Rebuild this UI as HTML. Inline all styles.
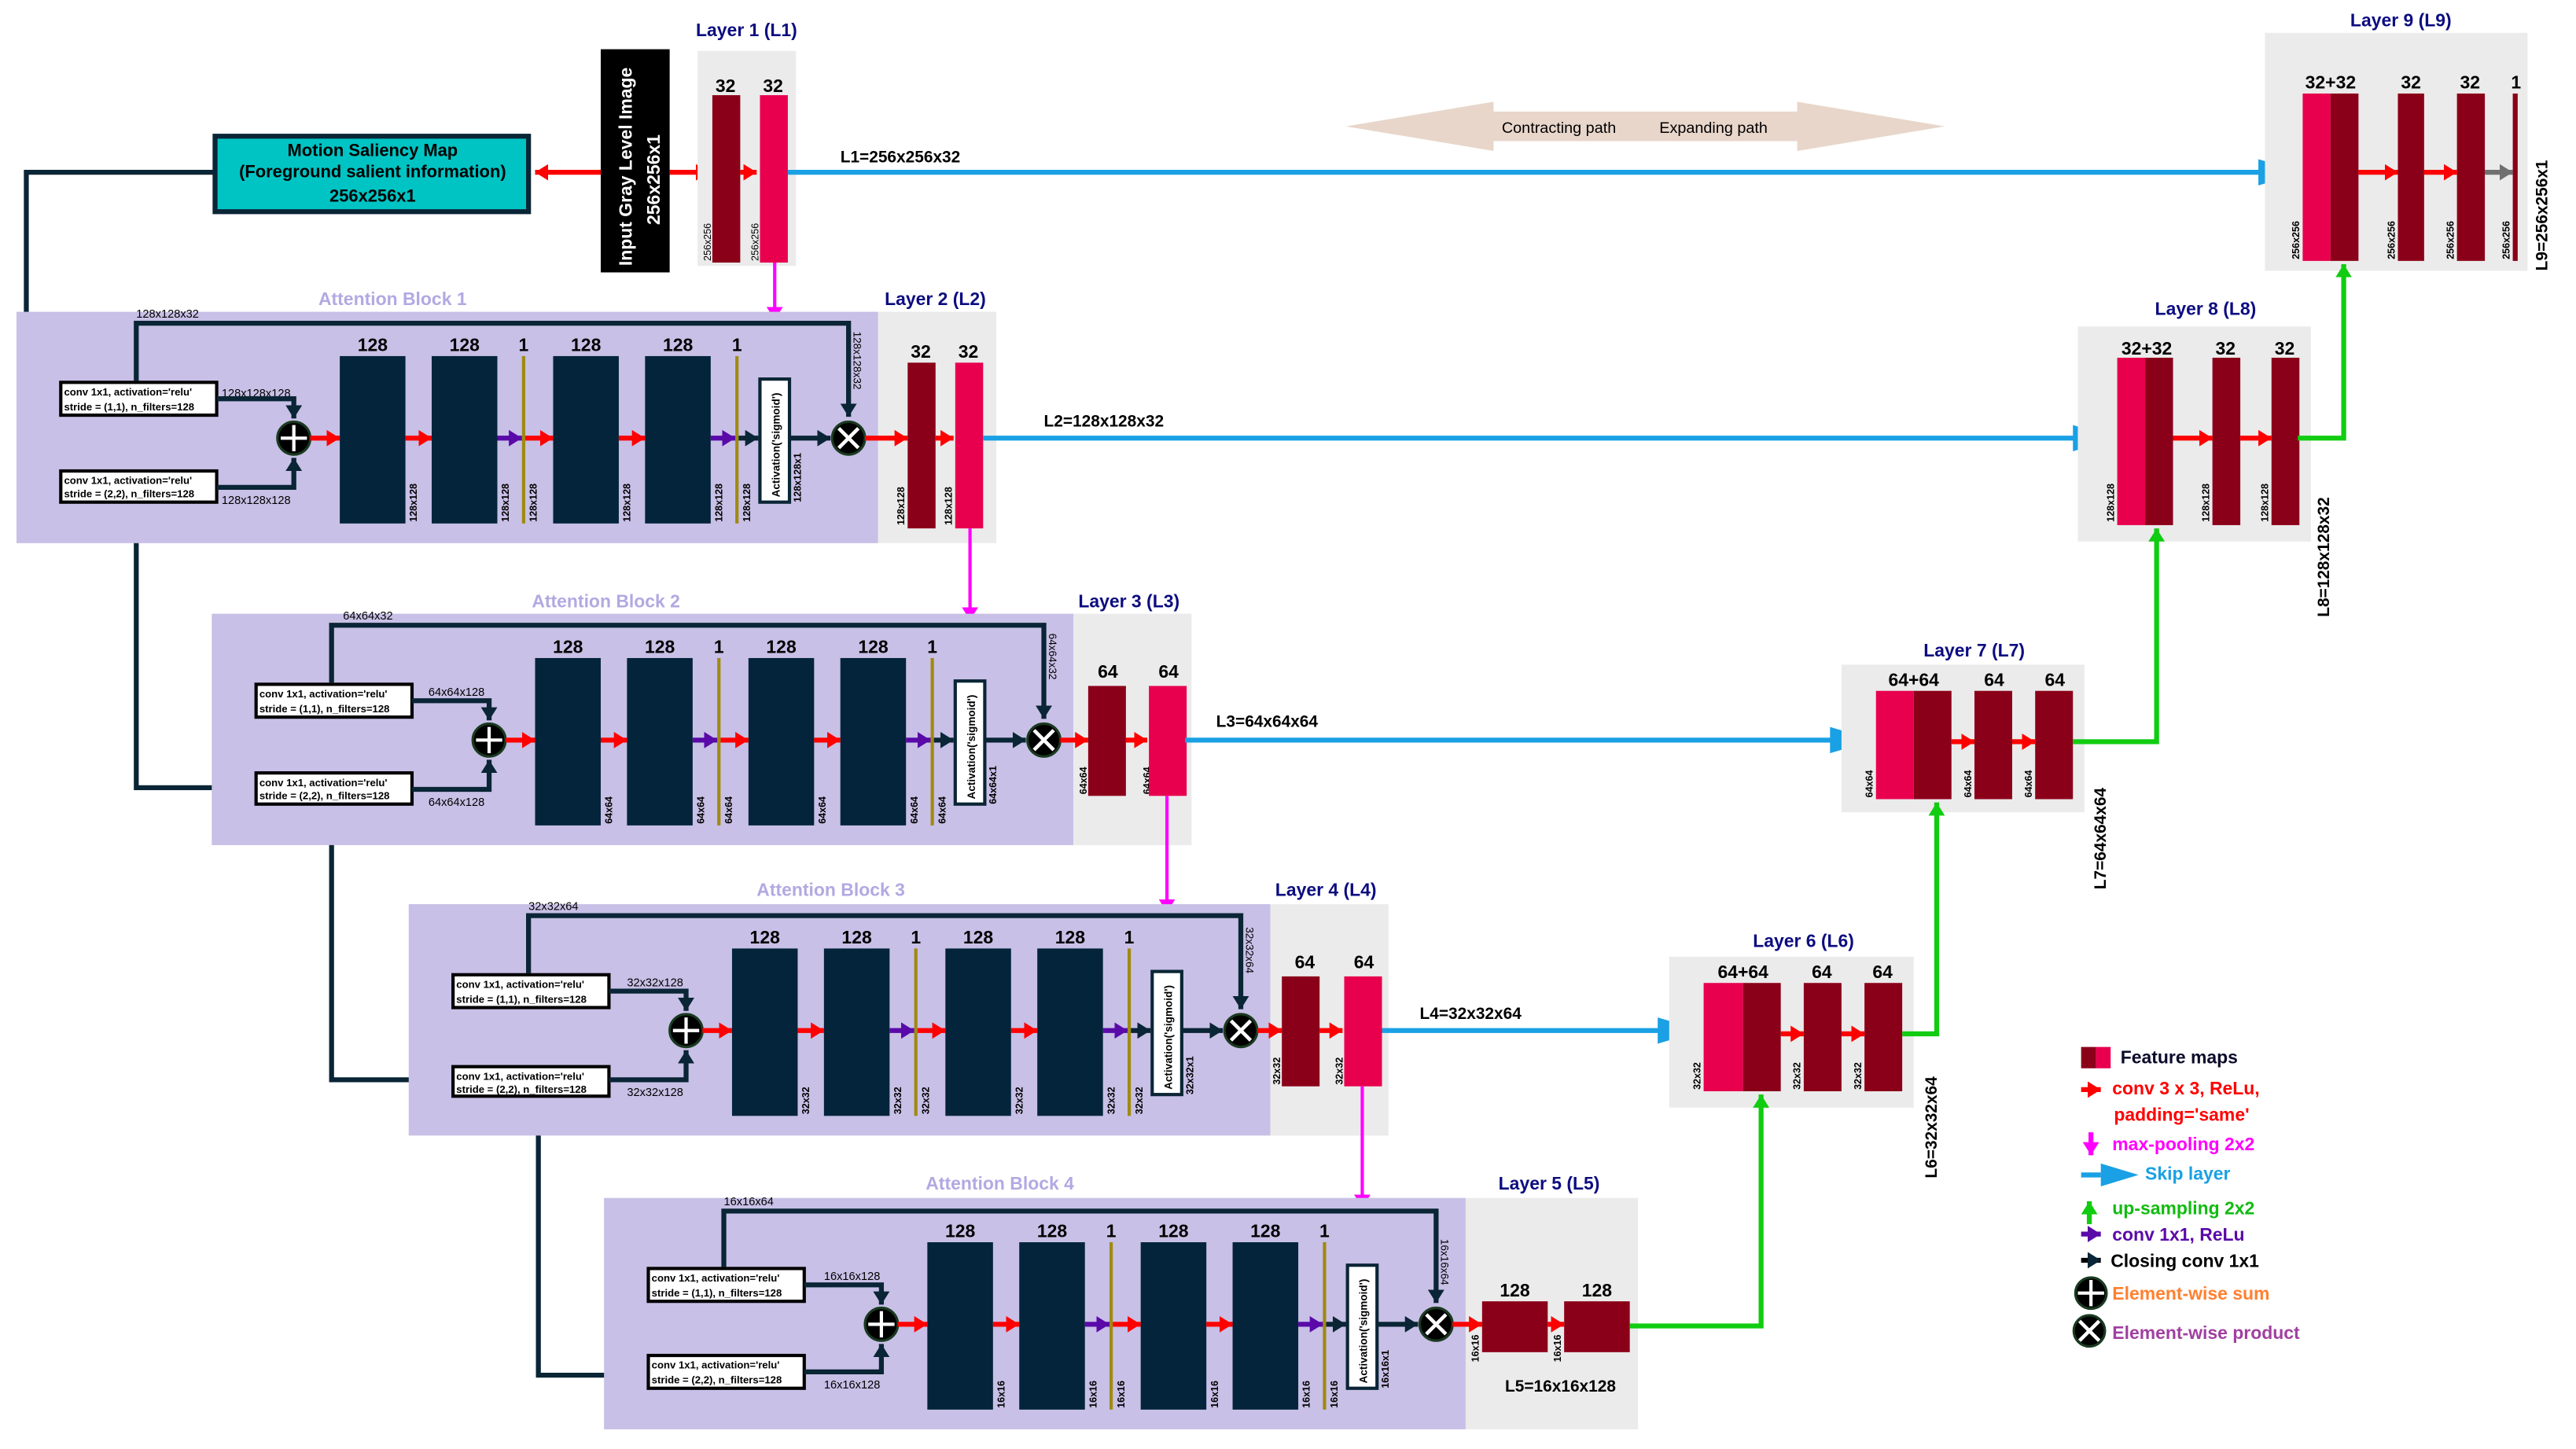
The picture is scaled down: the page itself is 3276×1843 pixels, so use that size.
<!DOCTYPE html>
<html><head><meta charset="utf-8">
<style>
html,body{margin:0;padding:0;background:#fff;}
svg{display:block;}
text{font-family:"Liberation Sans",sans-serif;}
.b{font-weight:bold;}
</style></head>
<body>
<svg width="3276" height="1843" viewBox="0 0 1569.5 883" xmlns="http://www.w3.org/2000/svg">
<defs>
<marker id="mr" markerUnits="userSpaceOnUse" markerWidth="10" markerHeight="10" refX="8" refY="5" orient="auto"><path d="M0,0 L8,5 L0,10 z" fill="#ff0000"/></marker>
<marker id="mp" markerUnits="userSpaceOnUse" markerWidth="10" markerHeight="10" refX="8" refY="5" orient="auto"><path d="M0,0 L8,5 L0,10 z" fill="#5a0aa8"/></marker>
<marker id="mk" markerUnits="userSpaceOnUse" markerWidth="10" markerHeight="10" refX="8" refY="5" orient="auto"><path d="M0,0 L8,5 L0,10 z" fill="#0a2535"/></marker>
<marker id="mm" markerUnits="userSpaceOnUse" markerWidth="10" markerHeight="10" refX="8" refY="5" orient="auto"><path d="M0,0 L8,5 L0,10 z" fill="#ff00ff"/></marker>
<marker id="mg" markerUnits="userSpaceOnUse" markerWidth="10" markerHeight="10" refX="8" refY="5" orient="auto"><path d="M0,0 L8,5 L0,10 z" fill="#11cc11"/></marker>
<marker id="mgr" markerUnits="userSpaceOnUse" markerWidth="10" markerHeight="10" refX="8" refY="5" orient="auto"><path d="M0,0 L8,5 L0,10 z" fill="#707070"/></marker>
</defs>

<!-- Contracting / Expanding -->
<polygon points="820,77 910,62 910,68 1095,68 1095,62 1185,77 1095,92 1095,86 910,86 910,92" fill="#e8d6ca"/>
<text x="915" y="81" font-size="9.5">Contracting path</text>
<text x="1011" y="81" font-size="9.5">Expanding path</text>

<!-- Motion saliency -->
<rect x="131" y="83" width="191" height="46" fill="#00c4c4" stroke="#0a2535" stroke-width="3"/>
<text x="227" y="95" font-size="10.5" class="b" text-anchor="middle">Motion Saliency Map</text>
<text x="227" y="108" font-size="10.5" class="b" text-anchor="middle">(Foreground salient information)</text>
<text x="227" y="123" font-size="10.5" class="b" text-anchor="middle">256x256x1</text>

<!-- Input -->
<rect x="366" y="30" width="42" height="136" fill="#000"/>
<text transform="rotate(-90 385 162)" x="385" y="162" font-size="11" class="b" fill="#fff">Input Gray Level Image</text>
<text transform="rotate(-90 402 137)" x="402" y="137" font-size="11" class="b" fill="#fff">256x256x1</text>
<line x1="366" y1="105" x2="326" y2="105" stroke="#ff0000" stroke-width="3" marker-end="url(#mr)"/>
<line x1="408" y1="105" x2="432" y2="105" stroke="#ff0000" stroke-width="3" marker-end="url(#mr)"/>

<!-- Layer 1 -->
<rect x="425" y="31" width="60" height="131" fill="#ebebeb"/>
<text x="424" y="22" font-size="11" class="b" fill="#0c0c80">Layer 1 (L1)</text>
<rect x="434" y="58" width="17" height="102" fill="#8b0019"/>
<rect x="463" y="58" width="17" height="102" fill="#e8004e"/>
<text x="442" y="56" font-size="11" text-anchor="middle" class="b">32</text>
<text x="471" y="56" font-size="11" text-anchor="middle" class="b">32</text>
<text transform="rotate(-90 433 159)" x="433" y="159" font-size="6">256x256</text>
<text transform="rotate(-90 462 159)" x="462" y="159" font-size="6">256x256</text>
<line x1="451" y1="105" x2="461" y2="105" stroke="#ff0000" stroke-width="3" marker-end="url(#mr)"/>
<line x1="472" y1="160" x2="472" y2="195" stroke="#ff00ff" stroke-width="2" marker-end="url(#mm)"/>

<!-- Skip L1 -->
<line x1="480" y1="105" x2="1380" y2="105" stroke="#1aa0e4" stroke-width="3"/>
<polygon points="1376,97 1403,105 1376,113" fill="#1aa0e4"/>
<text x="512" y="99" font-size="10" class="b">L1=256x256x32</text>

<!-- Left connectors -->
<polyline points="131,105 16,105 16,297 35,297" fill="none" stroke="#0a2535" stroke-width="3" marker-end="url(#mk)"/>
<polyline points="83,306 83,480 154,480" fill="none" stroke="#0a2535" stroke-width="3" marker-end="url(#mk)"/>
<polyline points="202,490 202,658 274,658" fill="none" stroke="#0a2535" stroke-width="3" marker-end="url(#mk)"/>
<polyline points="328,668 328,838 393,838" fill="none" stroke="#0a2535" stroke-width="3" marker-end="url(#mk)"/>

<!-- ===== Block 1 ===== -->
<g transform="translate(10,190)">
<rect x="0" y="0" width="525" height="141" fill="#c8c0e6"/>
<rect x="525" y="0" width="72" height="141" fill="#ebebeb"/>
<text x="184" y="-4" font-size="11" class="b" fill="#b2a9e2">Attention Block 1</text>
<text x="529" y="-4" font-size="11" class="b" fill="#0c0c80">Layer 2 (L2)</text>
<polyline points="73,42 73,7 507,7 507,64" fill="none" stroke="#0a2535" stroke-width="3" marker-end="url(#mk)"/>
<text x="73" y="3.5" font-size="7">128x128x32</text>
<text transform="rotate(90 510 12)" x="510" y="12" font-size="6.5">128x128x32</text>
<rect x="27" y="43" width="95" height="20" fill="#fff" stroke="#000" stroke-width="2"/>
<text x="29" y="51" font-size="6.3" class="b">conv 1x1, activation='relu'</text>
<text x="29" y="60" font-size="6.3" class="b">stride = (1,1), n_filters=128</text>
<rect x="27" y="97" width="95" height="19" fill="#fff" stroke="#000" stroke-width="2"/>
<text x="29" y="105" font-size="6.3" class="b">conv 1x1, activation='relu'</text>
<text x="29" y="113" font-size="6.3" class="b">stride = (2,2), n_filters=128</text>
<text x="125" y="52" font-size="7">128x128x128</text>
<text x="125" y="117" font-size="7">128x128x128</text>
<polyline points="122,53 169,53 169,65" fill="none" stroke="#0a2535" stroke-width="3" marker-end="url(#mk)"/>
<polyline points="122,107 169,107 169,89" fill="none" stroke="#0a2535" stroke-width="3" marker-end="url(#mk)"/>
<circle cx="169" cy="77" r="10" fill="#000" stroke="#1a3a20" stroke-width="1.5"/>
<path d="M161,77 H177 M169,69 V85" stroke="#fff" stroke-width="2"/>
<rect x="197" y="27" width="40" height="102" fill="#03243a"/>
<rect x="253" y="27" width="40" height="102" fill="#03243a"/>
<rect x="308" y="27" width="2" height="102" fill="#a08a10"/>
<rect x="327" y="27" width="40" height="102" fill="#03243a"/>
<rect x="383" y="27" width="40" height="102" fill="#03243a"/>
<rect x="438" y="27" width="2" height="102" fill="#a08a10"/>
<rect x="453" y="41" width="18" height="75" fill="#fff" stroke="#0a2535" stroke-width="2"/>
<text transform="rotate(-90 465 113)" x="465" y="113" font-size="6.5" class="b">Activation('sigmoid')</text>
<text x="217" y="24" font-size="11" class="b" text-anchor="middle">128</text>
<text x="273" y="24" font-size="11" class="b" text-anchor="middle">128</text>
<text x="309" y="24" font-size="11" class="b" text-anchor="middle">1</text>
<text x="347" y="24" font-size="11" class="b" text-anchor="middle">128</text>
<text x="403" y="24" font-size="11" class="b" text-anchor="middle">128</text>
<text x="439" y="24" font-size="11" class="b" text-anchor="middle">1</text>
<g font-size="6" font-weight="bold">
<text transform="rotate(-90 244 128)" x="244" y="128">128x128</text>
<text transform="rotate(-90 300 128)" x="300" y="128">128x128</text>
<text transform="rotate(-90 317 128)" x="317" y="128">128x128</text>
<text transform="rotate(-90 374 128)" x="374" y="128">128x128</text>
<text transform="rotate(-90 430 128)" x="430" y="128">128x128</text>
<text transform="rotate(-90 447 128)" x="447" y="128">128x128</text>
<text transform="rotate(-90 478 116)" x="478" y="116">128x128x1</text>
<text transform="rotate(-90 541 130)" x="541" y="130">128x128</text>
<text transform="rotate(-90 570 130)" x="570" y="130">128x128</text>
</g>
<line x1="179" y1="77" x2="197" y2="77" stroke="#ff0000" stroke-width="3" marker-end="url(#mr)"/>
<line x1="237" y1="77" x2="253" y2="77" stroke="#ff0000" stroke-width="3" marker-end="url(#mr)"/>
<line x1="293" y1="77" x2="308" y2="77" stroke="#5a0aa8" stroke-width="3" marker-end="url(#mp)"/>
<line x1="310" y1="77" x2="327" y2="77" stroke="#ff0000" stroke-width="3" marker-end="url(#mr)"/>
<line x1="367" y1="77" x2="383" y2="77" stroke="#ff0000" stroke-width="3" marker-end="url(#mr)"/>
<line x1="423" y1="77" x2="438" y2="77" stroke="#5a0aa8" stroke-width="3" marker-end="url(#mp)"/>
<line x1="440" y1="77" x2="452" y2="77" stroke="#0a2535" stroke-width="3" marker-end="url(#mk)"/>
<line x1="471" y1="77" x2="496" y2="77" stroke="#0a2535" stroke-width="3" marker-end="url(#mk)"/>
<circle cx="507" cy="77" r="10" fill="#000" stroke="#1a3a20" stroke-width="1.5"/>
<path d="M501,71 L513,83 M513,71 L501,83" stroke="#fff" stroke-width="2.2"/>
<line x1="517" y1="77" x2="543" y2="77" stroke="#ff0000" stroke-width="3" marker-end="url(#mr)"/>
<rect x="543" y="31" width="17" height="101" fill="#8b0019"/>
<rect x="572" y="31" width="17" height="101" fill="#e8004e"/>
<line x1="560" y1="77" x2="571" y2="77" stroke="#ff0000" stroke-width="3" marker-end="url(#mr)"/>
<text x="551" y="28" font-size="11" class="b" text-anchor="middle">32</text>
<text x="580" y="28" font-size="11" class="b" text-anchor="middle">32</text>
</g>
<line x1="591" y1="322" x2="591" y2="378" stroke="#ff00ff" stroke-width="2" marker-end="url(#mm)"/>
<line x1="599" y1="267" x2="1268" y2="267" stroke="#1aa0e4" stroke-width="3"/>
<polygon points="1263,259 1290,267 1263,275" fill="#1aa0e4"/>
<text x="636" y="260" font-size="10" class="b">L2=128x128x32</text>

<!-- ===== Block 2 ===== -->
<g transform="translate(129,374)">
<rect x="0" y="0" width="525" height="141" fill="#c8c0e6"/>
<rect x="525" y="0" width="72" height="141" fill="#ebebeb"/>
<text x="195" y="-4" font-size="11" class="b" fill="#b2a9e2">Attention Block 2</text>
<text x="528" y="-4" font-size="11" class="b" fill="#0c0c80">Layer 3 (L3)</text>
<polyline points="73,42 73,7 507,7 507,64" fill="none" stroke="#0a2535" stroke-width="3" marker-end="url(#mk)"/>
<text x="80" y="3.5" font-size="7">64x64x32</text>
<text transform="rotate(90 510 12)" x="510" y="12" font-size="6.5">64x64x32</text>
<rect x="27" y="43" width="95" height="20" fill="#fff" stroke="#000" stroke-width="2"/>
<text x="29" y="51" font-size="6.3" class="b">conv 1x1, activation='relu'</text>
<text x="29" y="60" font-size="6.3" class="b">stride = (1,1), n_filters=128</text>
<rect x="27" y="97" width="95" height="19" fill="#fff" stroke="#000" stroke-width="2"/>
<text x="29" y="105" font-size="6.3" class="b">conv 1x1, activation='relu'</text>
<text x="29" y="113" font-size="6.3" class="b">stride = (2,2), n_filters=128</text>
<text x="132" y="50" font-size="7">64x64x128</text>
<text x="132" y="117" font-size="7">64x64x128</text>
<polyline points="122,53 169,53 169,65" fill="none" stroke="#0a2535" stroke-width="3" marker-end="url(#mk)"/>
<polyline points="122,107 169,107 169,89" fill="none" stroke="#0a2535" stroke-width="3" marker-end="url(#mk)"/>
<circle cx="169" cy="77" r="10" fill="#000" stroke="#1a3a20" stroke-width="1.5"/>
<path d="M161,77 H177 M169,69 V85" stroke="#fff" stroke-width="2"/>
<rect x="197" y="27" width="40" height="102" fill="#03243a"/>
<rect x="253" y="27" width="40" height="102" fill="#03243a"/>
<rect x="308" y="27" width="2" height="102" fill="#a08a10"/>
<rect x="327" y="27" width="40" height="102" fill="#03243a"/>
<rect x="383" y="27" width="40" height="102" fill="#03243a"/>
<rect x="438" y="27" width="2" height="102" fill="#a08a10"/>
<rect x="453" y="41" width="18" height="75" fill="#fff" stroke="#0a2535" stroke-width="2"/>
<text transform="rotate(-90 465 113)" x="465" y="113" font-size="6.5" class="b">Activation('sigmoid')</text>
<text x="217" y="24" font-size="11" class="b" text-anchor="middle">128</text>
<text x="273" y="24" font-size="11" class="b" text-anchor="middle">128</text>
<text x="309" y="24" font-size="11" class="b" text-anchor="middle">1</text>
<text x="347" y="24" font-size="11" class="b" text-anchor="middle">128</text>
<text x="403" y="24" font-size="11" class="b" text-anchor="middle">128</text>
<text x="439" y="24" font-size="11" class="b" text-anchor="middle">1</text>
<g font-size="6" font-weight="bold">
<text transform="rotate(-90 244 128)" x="244" y="128">64x64</text>
<text transform="rotate(-90 300 128)" x="300" y="128">64x64</text>
<text transform="rotate(-90 317 128)" x="317" y="128">64x64</text>
<text transform="rotate(-90 374 128)" x="374" y="128">64x64</text>
<text transform="rotate(-90 430 128)" x="430" y="128">64x64</text>
<text transform="rotate(-90 447 128)" x="447" y="128">64x64</text>
<text transform="rotate(-90 478 116)" x="478" y="116">64x64x1</text>
<text transform="rotate(-90 533 110)" x="533" y="110">64x64</text>
<text transform="rotate(-90 572 110)" x="572" y="110">64x64</text>
</g>
<line x1="179" y1="77" x2="197" y2="77" stroke="#ff0000" stroke-width="3" marker-end="url(#mr)"/>
<line x1="237" y1="77" x2="253" y2="77" stroke="#ff0000" stroke-width="3" marker-end="url(#mr)"/>
<line x1="293" y1="77" x2="308" y2="77" stroke="#5a0aa8" stroke-width="3" marker-end="url(#mp)"/>
<line x1="310" y1="77" x2="327" y2="77" stroke="#ff0000" stroke-width="3" marker-end="url(#mr)"/>
<line x1="367" y1="77" x2="383" y2="77" stroke="#ff0000" stroke-width="3" marker-end="url(#mr)"/>
<line x1="423" y1="77" x2="438" y2="77" stroke="#5a0aa8" stroke-width="3" marker-end="url(#mp)"/>
<line x1="440" y1="77" x2="452" y2="77" stroke="#0a2535" stroke-width="3" marker-end="url(#mk)"/>
<line x1="471" y1="77" x2="496" y2="77" stroke="#0a2535" stroke-width="3" marker-end="url(#mk)"/>
<circle cx="507" cy="77" r="10" fill="#000" stroke="#1a3a20" stroke-width="1.5"/>
<path d="M501,71 L513,83 M513,71 L501,83" stroke="#fff" stroke-width="2.2"/>
<line x1="517" y1="77" x2="534" y2="77" stroke="#ff0000" stroke-width="3" marker-end="url(#mr)"/>
<rect x="534" y="44" width="23" height="67" fill="#8b0019"/>
<rect x="571" y="44" width="23" height="67" fill="#e8004e"/>
<line x1="557" y1="77" x2="570" y2="77" stroke="#ff0000" stroke-width="3" marker-end="url(#mr)"/>
<text x="546" y="39" font-size="11" class="b" text-anchor="middle">64</text>
<text x="583" y="39" font-size="11" class="b" text-anchor="middle">64</text>
</g>
<line x1="711" y1="485" x2="711" y2="556" stroke="#ff00ff" stroke-width="2" marker-end="url(#mm)"/>
<line x1="722" y1="451" x2="1118" y2="451" stroke="#1aa0e4" stroke-width="3"/>
<polygon points="1115,443 1142,451 1115,459" fill="#1aa0e4"/>
<text x="741" y="443" font-size="10" class="b">L3=64x64x64</text>

<!-- ===== Block 3 ===== -->
<g transform="translate(249,551)">
<rect x="0" y="0" width="525" height="141" fill="#c8c0e6"/>
<rect x="525" y="0" width="72" height="141" fill="#ebebeb"/>
<text x="212" y="-5" font-size="11" class="b" fill="#b2a9e2">Attention Block 3</text>
<text x="528" y="-5" font-size="11" class="b" fill="#0c0c80">Layer 4 (L4)</text>
<polyline points="73,42 73,7 507,7 507,64" fill="none" stroke="#0a2535" stroke-width="3" marker-end="url(#mk)"/>
<text x="73" y="3.5" font-size="7">32x32x64</text>
<text transform="rotate(90 510 14)" x="510" y="14" font-size="6.5">32x32x64</text>
<rect x="27" y="43" width="95" height="20" fill="#fff" stroke="#000" stroke-width="2"/>
<text x="29" y="51" font-size="6.3" class="b">conv 1x1, activation='relu'</text>
<text x="29" y="60" font-size="6.3" class="b">stride = (1,1), n_filters=128</text>
<rect x="27" y="99" width="95" height="18" fill="#fff" stroke="#000" stroke-width="2"/>
<text x="29" y="107" font-size="6.3" class="b">conv 1x1, activation='relu'</text>
<text x="29" y="115" font-size="6.3" class="b">stride = (2,2), n_filters=128</text>
<text x="133" y="50" font-size="7">32x32x128</text>
<text x="133" y="117" font-size="7">32x32x128</text>
<polyline points="122,53 169,53 169,65" fill="none" stroke="#0a2535" stroke-width="3" marker-end="url(#mk)"/>
<polyline points="122,107 169,107 169,89" fill="none" stroke="#0a2535" stroke-width="3" marker-end="url(#mk)"/>
<circle cx="169" cy="77" r="10" fill="#000" stroke="#1a3a20" stroke-width="1.5"/>
<path d="M161,77 H177 M169,69 V85" stroke="#fff" stroke-width="2"/>
<rect x="197" y="27" width="40" height="102" fill="#03243a"/>
<rect x="253" y="27" width="40" height="102" fill="#03243a"/>
<rect x="308" y="27" width="2" height="102" fill="#a08a10"/>
<rect x="327" y="27" width="40" height="102" fill="#03243a"/>
<rect x="383" y="27" width="40" height="102" fill="#03243a"/>
<rect x="438" y="27" width="2" height="102" fill="#a08a10"/>
<rect x="453" y="41" width="18" height="75" fill="#fff" stroke="#0a2535" stroke-width="2"/>
<text transform="rotate(-90 465 113)" x="465" y="113" font-size="6.5" class="b">Activation('sigmoid')</text>
<text x="217" y="24" font-size="11" class="b" text-anchor="middle">128</text>
<text x="273" y="24" font-size="11" class="b" text-anchor="middle">128</text>
<text x="309" y="24" font-size="11" class="b" text-anchor="middle">1</text>
<text x="347" y="24" font-size="11" class="b" text-anchor="middle">128</text>
<text x="403" y="24" font-size="11" class="b" text-anchor="middle">128</text>
<text x="439" y="24" font-size="11" class="b" text-anchor="middle">1</text>
<g font-size="6" font-weight="bold">
<text transform="rotate(-90 244 128)" x="244" y="128">32x32</text>
<text transform="rotate(-90 300 128)" x="300" y="128">32x32</text>
<text transform="rotate(-90 317 128)" x="317" y="128">32x32</text>
<text transform="rotate(-90 374 128)" x="374" y="128">32x32</text>
<text transform="rotate(-90 430 128)" x="430" y="128">32x32</text>
<text transform="rotate(-90 447 128)" x="447" y="128">32x32</text>
<text transform="rotate(-90 478 116)" x="478" y="116">32x32x1</text>
<text transform="rotate(-90 531 110)" x="531" y="110">32x32</text>
<text transform="rotate(-90 569 110)" x="569" y="110">32x32</text>
</g>
<line x1="179" y1="77" x2="197" y2="77" stroke="#ff0000" stroke-width="3" marker-end="url(#mr)"/>
<line x1="237" y1="77" x2="253" y2="77" stroke="#ff0000" stroke-width="3" marker-end="url(#mr)"/>
<line x1="293" y1="77" x2="308" y2="77" stroke="#5a0aa8" stroke-width="3" marker-end="url(#mp)"/>
<line x1="310" y1="77" x2="327" y2="77" stroke="#ff0000" stroke-width="3" marker-end="url(#mr)"/>
<line x1="367" y1="77" x2="383" y2="77" stroke="#ff0000" stroke-width="3" marker-end="url(#mr)"/>
<line x1="423" y1="77" x2="438" y2="77" stroke="#5a0aa8" stroke-width="3" marker-end="url(#mp)"/>
<line x1="440" y1="77" x2="452" y2="77" stroke="#0a2535" stroke-width="3" marker-end="url(#mk)"/>
<line x1="471" y1="77" x2="496" y2="77" stroke="#0a2535" stroke-width="3" marker-end="url(#mk)"/>
<circle cx="507" cy="77" r="10" fill="#000" stroke="#1a3a20" stroke-width="1.5"/>
<path d="M501,71 L513,83 M513,71 L501,83" stroke="#fff" stroke-width="2.2"/>
<line x1="517" y1="77" x2="532" y2="77" stroke="#ff0000" stroke-width="3" marker-end="url(#mr)"/>
<rect x="532" y="44" width="23" height="67" fill="#8b0019"/>
<rect x="570" y="44" width="23" height="67" fill="#e8004e"/>
<line x1="555" y1="77" x2="569" y2="77" stroke="#ff0000" stroke-width="3" marker-end="url(#mr)"/>
<text x="546" y="39" font-size="11" class="b" text-anchor="middle">64</text>
<text x="582" y="39" font-size="11" class="b" text-anchor="middle">64</text>
</g>
<line x1="830" y1="662" x2="830" y2="736" stroke="#ff00ff" stroke-width="2" marker-end="url(#mm)"/>
<line x1="842" y1="628" x2="1013" y2="628" stroke="#1aa0e4" stroke-width="3"/>
<polygon points="1010,620 1037,628 1010,636" fill="#1aa0e4"/>
<text x="865" y="621" font-size="10" class="b">L4=32x32x64</text>

<!-- ===== Block 4 ===== -->
<g transform="translate(368,730)">
<rect x="0" y="0" width="525" height="141" fill="#c8c0e6"/>
<rect x="525" y="0" width="105" height="141" fill="#ebebeb"/>
<text x="196" y="-5" font-size="11" class="b" fill="#b2a9e2">Attention Block 4</text>
<text x="545" y="-5" font-size="11" class="b" fill="#0c0c80">Layer 5 (L5)</text>
<polyline points="73,42 73,8 507,8 507,64" fill="none" stroke="#0a2535" stroke-width="3" marker-end="url(#mk)"/>
<text x="73" y="4.5" font-size="7">16x16x64</text>
<text transform="rotate(90 510 25)" x="510" y="25" font-size="6.5">16x16x64</text>
<rect x="27" y="43" width="95" height="20" fill="#fff" stroke="#000" stroke-width="2"/>
<text x="29" y="51" font-size="6.3" class="b">conv 1x1, activation='relu'</text>
<text x="29" y="60" font-size="6.3" class="b">stride = (1,1), n_filters=128</text>
<rect x="27" y="96" width="95" height="20" fill="#fff" stroke="#000" stroke-width="2"/>
<text x="29" y="104" font-size="6.3" class="b">conv 1x1, activation='relu'</text>
<text x="29" y="113" font-size="6.3" class="b">stride = (2,2), n_filters=128</text>
<text x="134" y="50" font-size="7">16x16x128</text>
<text x="134" y="116" font-size="7">16x16x128</text>
<polyline points="122,53 169,53 169,65" fill="none" stroke="#0a2535" stroke-width="3" marker-end="url(#mk)"/>
<polyline points="122,106 169,106 169,89" fill="none" stroke="#0a2535" stroke-width="3" marker-end="url(#mk)"/>
<circle cx="169" cy="77" r="10" fill="#000" stroke="#1a3a20" stroke-width="1.5"/>
<path d="M161,77 H177 M169,69 V85" stroke="#fff" stroke-width="2"/>
<rect x="197" y="27" width="40" height="102" fill="#03243a"/>
<rect x="253" y="27" width="40" height="102" fill="#03243a"/>
<rect x="308" y="27" width="2" height="102" fill="#a08a10"/>
<rect x="327" y="27" width="40" height="102" fill="#03243a"/>
<rect x="383" y="27" width="40" height="102" fill="#03243a"/>
<rect x="438" y="27" width="2" height="102" fill="#a08a10"/>
<rect x="453" y="41" width="18" height="75" fill="#fff" stroke="#0a2535" stroke-width="2"/>
<text transform="rotate(-90 465 113)" x="465" y="113" font-size="6.5" class="b">Activation('sigmoid')</text>
<text x="217" y="24" font-size="11" class="b" text-anchor="middle">128</text>
<text x="273" y="24" font-size="11" class="b" text-anchor="middle">128</text>
<text x="309" y="24" font-size="11" class="b" text-anchor="middle">1</text>
<text x="347" y="24" font-size="11" class="b" text-anchor="middle">128</text>
<text x="403" y="24" font-size="11" class="b" text-anchor="middle">128</text>
<text x="439" y="24" font-size="11" class="b" text-anchor="middle">1</text>
<g font-size="6" font-weight="bold">
<text transform="rotate(-90 244 128)" x="244" y="128">16x16</text>
<text transform="rotate(-90 300 128)" x="300" y="128">16x16</text>
<text transform="rotate(-90 317 128)" x="317" y="128">16x16</text>
<text transform="rotate(-90 374 128)" x="374" y="128">16x16</text>
<text transform="rotate(-90 430 128)" x="430" y="128">16x16</text>
<text transform="rotate(-90 447 128)" x="447" y="128">16x16</text>
<text transform="rotate(-90 478 116)" x="478" y="116">16x16x1</text>
<text transform="rotate(-90 533 100)" x="533" y="100">16x16</text>
<text transform="rotate(-90 583 100)" x="583" y="100">16x16</text>
</g>
<line x1="179" y1="77" x2="197" y2="77" stroke="#ff0000" stroke-width="3" marker-end="url(#mr)"/>
<line x1="237" y1="77" x2="253" y2="77" stroke="#ff0000" stroke-width="3" marker-end="url(#mr)"/>
<line x1="293" y1="77" x2="308" y2="77" stroke="#5a0aa8" stroke-width="3" marker-end="url(#mp)"/>
<line x1="310" y1="77" x2="327" y2="77" stroke="#ff0000" stroke-width="3" marker-end="url(#mr)"/>
<line x1="367" y1="77" x2="383" y2="77" stroke="#ff0000" stroke-width="3" marker-end="url(#mr)"/>
<line x1="423" y1="77" x2="438" y2="77" stroke="#5a0aa8" stroke-width="3" marker-end="url(#mp)"/>
<line x1="440" y1="77" x2="452" y2="77" stroke="#0a2535" stroke-width="3" marker-end="url(#mk)"/>
<line x1="471" y1="77" x2="496" y2="77" stroke="#0a2535" stroke-width="3" marker-end="url(#mk)"/>
<circle cx="507" cy="77" r="10" fill="#000" stroke="#1a3a20" stroke-width="1.5"/>
<path d="M501,71 L513,83 M513,71 L501,83" stroke="#fff" stroke-width="2.2"/>
<line x1="517" y1="77" x2="535" y2="77" stroke="#ff0000" stroke-width="3" marker-end="url(#mr)"/>
<rect x="535" y="63" width="40" height="31" fill="#8b0019"/>
<rect x="585" y="63" width="40" height="31" fill="#8b0019"/>
<line x1="575" y1="77" x2="585" y2="77" stroke="#ff0000" stroke-width="3" marker-end="url(#mr)"/>
<text x="555" y="60" font-size="11" class="b" text-anchor="middle">128</text>
<text x="605" y="60" font-size="11" class="b" text-anchor="middle">128</text>
<text x="549" y="118" font-size="10" class="b">L5=16x16x128</text>
</g>

<!-- ===== Decoder ===== -->
<!-- L6 -->
<rect x="1017" y="583" width="149" height="92" fill="#ebebeb"/>
<text x="1068" y="577" font-size="11" class="b" fill="#0c0c80">Layer 6 (L6)</text>
<rect x="1038" y="599" width="24" height="66" fill="#e8004e"/>
<rect x="1062" y="599" width="23" height="66" fill="#8b0019"/>
<rect x="1099" y="599" width="23" height="66" fill="#8b0019"/>
<rect x="1136" y="599" width="23" height="66" fill="#8b0019"/>
<line x1="1085" y1="630" x2="1099" y2="630" stroke="#ff0000" stroke-width="3" marker-end="url(#mr)"/>
<line x1="1122" y1="630" x2="1136" y2="630" stroke="#ff0000" stroke-width="3" marker-end="url(#mr)"/>
<text x="1062" y="596" font-size="11" class="b" text-anchor="middle">64+64</text>
<text x="1110" y="596" font-size="11" class="b" text-anchor="middle">64</text>
<text x="1147" y="596" font-size="11" class="b" text-anchor="middle">64</text>
<g font-size="6" font-weight="bold">
<text transform="rotate(-90 1036 664)" x="1036" y="664">32x32</text>
<text transform="rotate(-90 1097 664)" x="1097" y="664">32x32</text>
<text transform="rotate(-90 1134 664)" x="1134" y="664">32x32</text>
</g>
<text transform="rotate(-90 1180 718)" x="1180" y="718" font-size="10" class="b">L6=32x32x64</text>
<polyline points="993,808 1073,808 1073,667" fill="none" stroke="#11cc11" stroke-width="3" marker-end="url(#mg)"/>

<!-- L7 -->
<rect x="1122" y="405" width="148" height="90" fill="#ebebeb"/>
<text x="1172" y="400" font-size="11" class="b" fill="#0c0c80">Layer 7 (L7)</text>
<rect x="1143" y="421" width="23" height="66" fill="#e8004e"/>
<rect x="1166" y="421" width="23" height="66" fill="#8b0019"/>
<rect x="1203" y="421" width="23" height="66" fill="#8b0019"/>
<rect x="1240" y="421" width="23" height="66" fill="#8b0019"/>
<line x1="1189" y1="452" x2="1203" y2="452" stroke="#ff0000" stroke-width="3" marker-end="url(#mr)"/>
<line x1="1226" y1="452" x2="1240" y2="452" stroke="#ff0000" stroke-width="3" marker-end="url(#mr)"/>
<text x="1166" y="418" font-size="11" class="b" text-anchor="middle">64+64</text>
<text x="1215" y="418" font-size="11" class="b" text-anchor="middle">64</text>
<text x="1252" y="418" font-size="11" class="b" text-anchor="middle">64</text>
<g font-size="6" font-weight="bold">
<text transform="rotate(-90 1141 486)" x="1141" y="486">64x64</text>
<text transform="rotate(-90 1201 486)" x="1201" y="486">64x64</text>
<text transform="rotate(-90 1238 486)" x="1238" y="486">64x64</text>
</g>
<text transform="rotate(-90 1283 542)" x="1283" y="542" font-size="10" class="b">L7=64x64x64</text>
<polyline points="1159,630 1180,630 1180,489" fill="none" stroke="#11cc11" stroke-width="3" marker-end="url(#mg)"/>

<!-- L8 -->
<rect x="1266" y="199" width="142" height="131" fill="#ebebeb"/>
<text x="1313" y="192" font-size="11" class="b" fill="#0c0c80">Layer 8 (L8)</text>
<rect x="1290" y="218" width="17" height="102" fill="#e8004e"/>
<rect x="1307" y="218" width="17" height="102" fill="#8b0019"/>
<rect x="1348" y="218" width="17" height="102" fill="#8b0019"/>
<rect x="1384" y="218" width="17" height="102" fill="#8b0019"/>
<line x1="1324" y1="267" x2="1348" y2="267" stroke="#ff0000" stroke-width="3" marker-end="url(#mr)"/>
<line x1="1365" y1="267" x2="1384" y2="267" stroke="#ff0000" stroke-width="3" marker-end="url(#mr)"/>
<text x="1308" y="216" font-size="11" class="b" text-anchor="middle">32+32</text>
<text x="1356" y="216" font-size="11" class="b" text-anchor="middle">32</text>
<text x="1392" y="216" font-size="11" class="b" text-anchor="middle">32</text>
<g font-size="6" font-weight="bold">
<text transform="rotate(-90 1288 318)" x="1288" y="318">128x128</text>
<text transform="rotate(-90 1346 318)" x="1346" y="318">128x128</text>
<text transform="rotate(-90 1382 318)" x="1382" y="318">128x128</text>
</g>
<text transform="rotate(-90 1419 376)" x="1419" y="376" font-size="10" class="b">L8=128x128x32</text>
<polyline points="1263,452 1314,452 1314,322" fill="none" stroke="#11cc11" stroke-width="3" marker-end="url(#mg)"/>

<!-- L9 -->
<rect x="1380" y="20" width="160" height="145" fill="#ebebeb"/>
<text x="1432" y="16" font-size="11" class="b" fill="#0c0c80">Layer 9 (L9)</text>
<rect x="1403" y="57" width="17" height="102" fill="#e8004e"/>
<rect x="1420" y="57" width="17" height="102" fill="#8b0019"/>
<rect x="1461" y="57" width="16" height="102" fill="#8b0019"/>
<rect x="1497" y="57" width="17" height="102" fill="#8b0019"/>
<rect x="1531" y="57" width="3" height="102" fill="#8b0019"/>
<line x1="1437" y1="105" x2="1461" y2="105" stroke="#ff0000" stroke-width="3" marker-end="url(#mr)"/>
<line x1="1477" y1="105" x2="1497" y2="105" stroke="#ff0000" stroke-width="3" marker-end="url(#mr)"/>
<line x1="1514" y1="105" x2="1531" y2="105" stroke="#707070" stroke-width="3" marker-end="url(#mgr)"/>
<text x="1420" y="54" font-size="11" class="b" text-anchor="middle">32+32</text>
<text x="1469" y="54" font-size="11" class="b" text-anchor="middle">32</text>
<text x="1505" y="54" font-size="11" class="b" text-anchor="middle">32</text>
<text x="1533" y="54" font-size="11" class="b" text-anchor="middle">1</text>
<g font-size="6" font-weight="bold">
<text transform="rotate(-90 1401 158)" x="1401" y="158">256x256</text>
<text transform="rotate(-90 1459 158)" x="1459" y="158">256x256</text>
<text transform="rotate(-90 1495 158)" x="1495" y="158">256x256</text>
<text transform="rotate(-90 1529 158)" x="1529" y="158">256x256</text>
</g>
<text transform="rotate(-90 1552 165)" x="1552" y="165" font-size="10" class="b">L9=256x256x1</text>
<polyline points="1400,267 1428,267 1428,161" fill="none" stroke="#11cc11" stroke-width="3" marker-end="url(#mg)"/>

<!-- Legend -->
<rect x="1268" y="638" width="9" height="13" fill="#8b0019"/>
<rect x="1277" y="638" width="9" height="13" fill="#e8004e"/>
<text x="1292" y="648" font-size="11" class="b" fill="#0a0a2a">Feature maps</text>
<line x1="1268" y1="664" x2="1280" y2="664" stroke="#ff0000" stroke-width="3" marker-end="url(#mr)"/>
<text x="1287" y="667" font-size="11" class="b" fill="#ff0000">conv 3 x 3, ReLu,</text>
<text x="1288" y="683" font-size="11" class="b" fill="#ff0000">padding='same'</text>
<line x1="1274" y1="690" x2="1274" y2="704" stroke="#ff00ff" stroke-width="3" marker-end="url(#mm)"/>
<text x="1287" y="701" font-size="11" class="b" fill="#ff00ff">max-pooling 2x2</text>
<line x1="1268" y1="716" x2="1280" y2="716" stroke="#1aa0e4" stroke-width="3"/>
<polygon points="1280,709 1303,716 1280,723" fill="#1aa0e4"/>
<text x="1307" y="719" font-size="11" class="b" fill="#1aa0e4">Skip layer</text>
<line x1="1273" y1="746" x2="1273" y2="732" stroke="#11cc11" stroke-width="3" marker-end="url(#mg)"/>
<text x="1287" y="740" font-size="11" class="b" fill="#11bb11">up-sampling 2x2</text>
<line x1="1268" y1="752" x2="1280" y2="752" stroke="#5a0aa8" stroke-width="3" marker-end="url(#mp)"/>
<text x="1287" y="756" font-size="11" class="b" fill="#5a0aa8">conv 1x1, ReLu</text>
<line x1="1268" y1="768" x2="1280" y2="768" stroke="#000" stroke-width="3" marker-end="url(#mk)"/>
<text x="1286" y="772" font-size="11" class="b" fill="#000">Closing conv 1x1</text>
<circle cx="1274" cy="788" r="9.5" fill="#000" stroke="#1a3a20" stroke-width="1.5"/>
<path d="M1266,788 H1282 M1274,780 V796" stroke="#fff" stroke-width="2"/>
<text x="1287" y="792" font-size="11" class="b" fill="#ff8030">Element-wise sum</text>
<circle cx="1273" cy="811" r="9.5" fill="#000" stroke="#1a3a20" stroke-width="1.5"/>
<path d="M1267,805 L1279,817 M1279,805 L1267,817" stroke="#fff" stroke-width="2.2"/>
<text x="1287" y="816" font-size="11" class="b" fill="#a040a0">Element-wise product</text>
</svg>
</body></html>
